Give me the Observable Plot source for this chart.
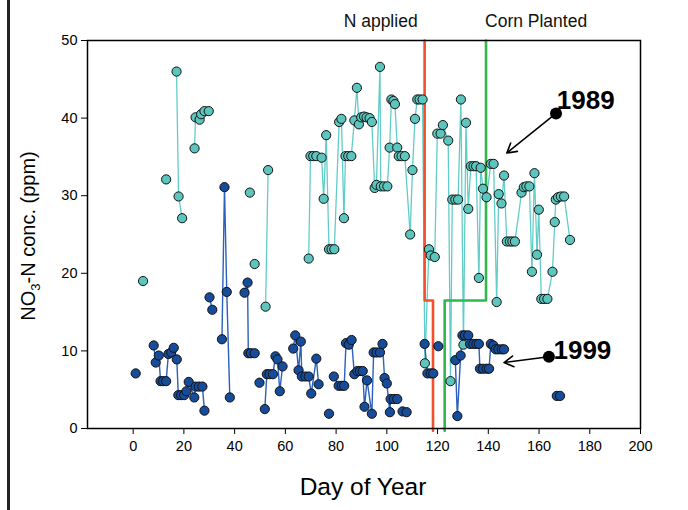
<!DOCTYPE html>
<html><head><meta charset="utf-8">
<script src="https://cdn.jsdelivr.net/npm/d3@7"></script>
<script src="https://cdn.jsdelivr.net/npm/@observablehq/plot@0.6"></script>
<style>
body{margin:0;background:#fff;}
#wrap{position:relative;width:688px;height:510px;overflow:hidden;background:#fff}
#edge{position:absolute;left:7px;top:0;width:2.5px;height:510px;background:#222}
#wrap svg{position:absolute;left:0;top:0}
</style></head><body><div id="wrap"><div id="edge"></div></div>
<script>
// ---- 1989 series (day of year, NO3-N ppm)
const day1989 = [3.9, 13.0, 17.1,17.9,19.3, 24.2,24.6,26.2,26.8,28.1,29.8, 46.0, 47.9, 52.2,53.2,
  69.2,69.9,71.0,72.2,74.3,75.1,76.1,77.2,78.2,79.3,81.2,82.1,83.1,83.7,84.8,86.0,87.2,88.2,89.0,89.9,
  91.0,92.0,93.2,94.1,95.2,95.9,97.3,97.6,98.9,100.2,101.1,101.8,102.6,103.2,104.1,104.7,105.8,107.1,109.2,110.1,
  111.1,112.0,112.9,114.1,115.0,116.6,117.3,118.9,119.9,121.2,122.1,124.2,125.1,125.8,127.0,128.1,129.2,130.2,131.2,132.1,
  133.1,134.2,135.2,136.3,137.0,137.9,139.3,141.0,142.1,143.3,144.1,145.2,146.2,147.3,148.5,149.5,150.5,153.1,154.0,155.0,
  156.2,157.2,158.2,159.2,159.9,160.9,162.0,163.3,165.3,166.2,166.6,167.5,168.6,169.9,172.2];
const no3_1989 = [19.0, 32.1, 46.0,29.9,27.1, 36.1,40.1,39.8,40.5,40.9,40.9, 30.4, 21.2, 15.7,33.3,
  21.9,35.1,35.1,35.1,34.9,29.6,37.8,23.1,23.1,23.1,39.5,39.9,27.1,35.1,35.1,35.1,39.7,43.9,39.2,40.1,
  40.2,40.1,40.0,39.5,31.0,31.4,46.6,31.2,31.2,31.2,36.2,42.4,42.2,41.8,36.2,35.1,35.1,35.1,25.0,33.3,
  39.9,42.4,42.4,42.4,8.4,23.1,22.3,22.1,38.0,38.0,39.1,37.1,6.1,29.5,29.5,29.5,42.4,10.8,39.4,28.3,
  33.8,33.8,33.8,19.4,33.6,30.9,29.8,34.1,34.1,16.3,30.2,29.0,32.6,24.1,24.1,24.1,24.1,30.4,31.1,31.2,
  31.2,20.2,32.9,22.4,28.2,16.7,16.7,16.7,20.2,26.6,29.5,29.8,29.9,29.9,24.3];
const runStarts1989 = [3.9, 13.0, 17.1, 24.2, 46.0, 47.9, 52.2, 69.2];

// ---- 1999 series
const day1999 = [1.0, 8.1,8.9,10.1,10.8,11.8,13.0,13.9,15.0,16.0,17.2,17.8,18.9,20.1,21.0,21.9,24.1,24.6,25.9,27.3,28.1,
  30.1,31.2, 35.0,36.0,36.9,38.1, 43.9,45.1,45.4,46.4,47.9, 49.8, 51.9,52.7,53.8,55.1,56.1,56.9,57.8,58.9,
  63.1,63.9,65.2,66.1,66.5,67.9,69.2,70.2,72.2,73.1, 77.2,
  79.1,81.0,82.2,83.2,83.9,85.0,86.1,87.2,88.4,89.4,90.5,91.2,92.2,94.1,94.8,96.0,97.3,98.3,99.1,100.0,101.2,101.5,102.8,104.1,
  106.2,107.8, 114.9,116.0,117.3,118.3, 120.3,
  127.0,127.8,129.1,129.8,130.8,132.1,132.8,134.1,135.3,136.3,136.7,137.9,139.3,140.3,141.0,142.0,142.9,144.0,145.3,146.2,
  167.0,168.3];
const no3_1999 = [7.1, 10.7,8.5,9.4,6.1,6.1,6.1,9.6,9.8,10.4,8.9,4.3,4.3,4.3,4.8,6.0,4.0,5.4,5.4,5.4,2.3,
  16.9,15.3, 11.5,31.1,17.6,4.0, 17.5,18.8,9.7,9.7,9.7, 5.9, 2.5,7.0,7.0,7.0,9.3,8.9,4.8,8.0,
  10.3,12.0,7.5,11.2,6.7,6.7,6.7,4.5,9.0,5.7, 1.9,
  6.7,5.5,5.5,5.5,11.0,10.8,11.4,7.0,7.4,7.4,7.4,2.8,6.2,1.9,9.8,9.8,9.8,10.9,6.5,5.8,2.1,3.8,3.8,3.8,
  2.2,2.1, 10.9,7.1,7.1,7.1, 10.6,
  8.8,1.6,9.4,12.0,12.0,12.0,10.9,10.9,10.9,10.9,7.7,7.7,7.7,7.7,10.9,10.7,10.2,10.2,10.2,10.2,
  4.2,4.2];
const runStarts1999 = [1.0, 8.1, 30.1, 35.0, 43.9, 49.8, 51.9, 63.1, 77.2, 79.1, 106.2, 114.9, 120.3, 127.0, 167.0];

// ---- management events (day) and step level
const nAppliedDays = [114.9, 118.2];
const cornPlantedDays = [122.8, 139.1];
const eventStepLevel = 16.5;
const eventLabels = ["N applied", "Corn Planted"];
const eventLabelNo3 = 52.4;

// ---- year annotations
const yearLabels = ["1989", "1999"];
const labelDay = [166.7, 163.9];
const labelNo3 = [40.6, 9.25];
const labelTextDay = [167.0, 165.7];
const labelTextNo3 = [42.3, 10.0];
const arrowTipDay = [147.3, 146.2];
const arrowTipNo3 = [35.5, 8.5];

// ---- axes
const xTicks = [0,20,40,60,80,100,120,140,160,180,200];
const yTicks = [0,10,20,30,40,50];
const xDomain = [-18, 200];
const yDomain = [0, 50];

function build(days, vals, starts) {
  return days.map((d, i) => ({day: d, no3: vals[i], run: starts.filter(s => s <= d).length}));
}
const d89 = build(day1989, no3_1989, runStarts1989);
const d99 = build(day1999, no3_1999, runStarts1999);

const yTopVal = yDomain[1], yBotVal = yDomain[0] - 0.3;
const nPath = [
  {day: nAppliedDays[0], no3: yTopVal}, {day: nAppliedDays[0], no3: eventStepLevel},
  {day: nAppliedDays[1], no3: eventStepLevel}, {day: nAppliedDays[1], no3: yBotVal}];
const cornPath = [
  {day: cornPlantedDays[0], no3: yBotVal}, {day: cornPlantedDays[0], no3: eventStepLevel},
  {day: cornPlantedDays[1], no3: eventStepLevel}, {day: cornPlantedDays[1], no3: yTopVal}];

const annot = yearLabels.map((t, i) => ({t, day: labelDay[i], no3: labelNo3[i],
  tday: labelTextDay[i], tno3: labelTextNo3[i], tipDay: arrowTipDay[i], tipNo3: arrowTipNo3[i]}));

const teal = "#5cc5be", tealLine = "#62cdc8", navy = "#174c9a", navyLine = "#2a60be";
const font = "'Liberation Sans', Arial, sans-serif";

const chart = Plot.plot({
  width: 688, height: 510,
  marginLeft: 87, marginRight: 48, marginTop: 40, marginBottom: 82,
  style: {fontFamily: font, background: "transparent", color: "black"},
  x: {domain: xDomain, label: null},
  y: {domain: yDomain, label: null},
  marks: [
    Plot.line(d89, {x: "day", y: "no3", z: "run", stroke: tealLine, strokeWidth: 1.3}),
    Plot.line(d99, {x: "day", y: "no3", z: "run", stroke: navyLine, strokeWidth: 1.4}),
    Plot.line(nPath, {x: "day", y: "no3", stroke: "#f0502c", strokeWidth: 2.6}),
    Plot.line(cornPath, {x: "day", y: "no3", stroke: "#2fb84c", strokeWidth: 2.6}),
    Plot.dot(d89, {x: "day", y: "no3", r: 4.6, fill: teal, stroke: "#111", strokeWidth: 1}),
    Plot.dot(d99, {x: "day", y: "no3", r: 4.6, fill: navy, stroke: "#111", strokeWidth: 1}),
    Plot.arrow(annot, {x1: "day", y1: "no3", x2: "tipDay", y2: "tipNo3", stroke: "black", strokeWidth: 1.6, headLength: 10}),
    Plot.dot(annot, {x: "day", y: "no3", r: 6, fill: "black"}),
    Plot.text(annot, {x: "tday", y: "tno3", text: "t", textAnchor: "start", fontSize: 26, fontWeight: "bold", fill: "black"}),
    Plot.text([eventLabels[0]], {x: () => nAppliedDays[0], y: () => eventLabelNo3, text: d => d, textAnchor: "end", dx: -7, fontSize: 17.5, fill: "#111"}),
    Plot.text([eventLabels[1]], {x: () => cornPlantedDays[1], y: () => eventLabelNo3, text: d => d, textAnchor: "start", dx: -1, fontSize: 17.5, fill: "#111"}),
    Plot.frame({stroke: "black", strokeWidth: 1.5}),
    Plot.axisX({ticks: xTicks, tickSize: 6, tickPadding: 6, fontSize: 14.5, label: null}),
    Plot.axisY({ticks: yTicks, tickSize: 6, tickPadding: 4, fontSize: 14.5, label: null})
  ]
});
document.getElementById("wrap").appendChild(chart);

const svg = d3.select(chart);
svg.append("text")
  .attr("x", 363).attr("y", 495).attr("text-anchor", "middle")
  .style("font-size", "24.5px").style("font-family", font)
  .text("Day of Year");
const yl = svg.append("text")
  .attr("transform", "translate(35,236) rotate(-90)").attr("text-anchor", "middle")
  .style("font-size", "20px").style("font-family", font);
yl.append("tspan").text("NO");
yl.append("tspan").attr("dy", 5).style("font-size", "13px").text("3");
yl.append("tspan").attr("dy", -5).text("-N conc. (ppm)");
</script>
</body></html>
